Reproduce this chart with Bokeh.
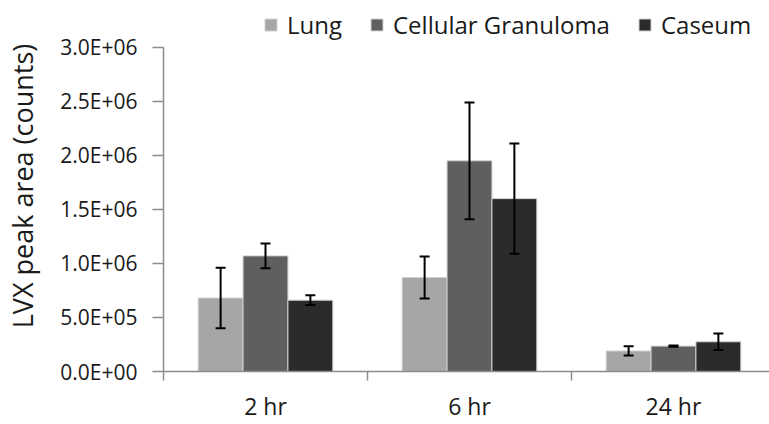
import numpy as np
from bokeh.plotting import figure
from bokeh.models import (ColumnDataSource, Range1d, FixedTicker, LinearAxis,
                          Legend, LegendItem, Whisker, TeeHead)
from bokeh.embed import file_html
from bokeh.resources import INLINE

categories = ["2 hr", "6 hr", "24 hr"]
series = ["Lung", "Cellular Granuloma", "Caseum"]
lung = [6.8e5, 8.7e5, 1.9e5]
lung_err = [2.8e5, 1.95e5, 4.3e4]
granuloma = [1.07e6, 1.95e6, 2.35e5]
granuloma_err = [1.15e5, 5.4e5, 5e3]
caseum = [6.6e5, 1.6e6, 2.75e5]
caseum_err = [4.5e4, 5.1e5, 7.7e4]
y_ticks = [0, 500000, 1000000, 1500000, 2000000, 2500000, 3000000]
y_tick_labels = ["0.0E+00", "5.0E+05", "1.0E+06", "1.5E+06", "2.0E+06", "2.5E+06", "3.0E+06"]

colors = ["#a6a6a6", "#5f5f5f", "#2b2b2b"]
offsets = [-0.22, 0.0, 0.22]
bar_w = 0.22
FONT = "Open Sans"
AX = "#8c8c8c"

values = [lung, granuloma, caseum]
errors = [lung_err, granuloma_err, caseum_err]

n = len(categories)
centers = np.arange(n) + 0.5
bounds = np.arange(n + 1)

y_max = y_ticks[-1]
# frame spans whole top area (legend lives inside it); axis is bounded to the tick range
p = figure(width=769, height=424, x_range=Range1d(0, 606 / 204),
           y_range=Range1d(0, y_max * 372 / 325),
           output_backend="svg", toolbar_location=None,
           x_axis_location=None, y_axis_location=None,
           min_border_left=163, min_border_right=0, min_border_top=0, min_border_bottom=52)
p.outline_line_color = None
for g in p.grid:
    g.visible = False

items = []
for s, vals, errs, col, off in zip(series, values, errors, colors, offsets):
    vals = np.array(vals, dtype=float)
    errs = np.array(errs, dtype=float)
    src = ColumnDataSource(dict(x=centers + off, top=vals, upper=vals + errs, lower=vals - errs))
    r = p.vbar(x="x", top="top", width=bar_w, source=src, fill_color=col, line_color="#d0d0d0", line_width=1)
    w = Whisker(base="x", upper="upper", lower="lower", source=src, line_color="black", line_width=2,
                level="overlay",
                upper_head=TeeHead(size=10, line_width=2, line_color="black"),
                lower_head=TeeHead(size=10, line_width=2, line_color="black"))
    p.add_layout(w)
    items.append(LegendItem(label=s, renderers=[r]))

yaxis = LinearAxis(ticker=FixedTicker(ticks=y_ticks, minor_ticks=[]), bounds=(0, y_max),
                   major_label_overrides={t: l for t, l in zip(y_ticks, y_tick_labels)},
                   axis_line_color=AX, axis_line_width=1.5,
                   major_tick_line_color=AX, major_tick_line_width=1.5,
                   major_tick_out=11, major_tick_in=0, minor_tick_line_color=None,
                   major_label_text_font=FONT, major_label_text_font_size="21px",
                   major_label_text_color="#1a1a1a", major_label_standoff=15,
                   axis_label="LVX peak area (counts)", axis_label_text_font=FONT,
                   axis_label_text_font_style="normal", axis_label_text_font_size="27px",
                   axis_label_text_color="#1a1a1a", axis_label_standoff=16)
p.add_layout(yaxis, "left")

xaxis = LinearAxis(ticker=FixedTicker(ticks=list(centers), minor_ticks=list(bounds)),
                   major_label_overrides={float(c): cat for c, cat in zip(centers, categories)},
                   axis_line_color=AX, axis_line_width=1.5,
                   major_tick_line_color=None, major_tick_out=0, major_tick_in=0,
                   minor_tick_line_color=AX, minor_tick_line_width=1.5, minor_tick_out=9, minor_tick_in=0,
                   major_label_text_font=FONT, major_label_text_font_size="23px",
                   major_label_text_color="#1a1a1a", major_label_standoff=9)
p.add_layout(xaxis, "below")

legend = Legend(items=items, location=(100, 330), orientation="horizontal",
                glyph_width=15, glyph_height=15, label_standoff=9, spacing=27,
                padding=0, margin=0, border_line_color=None, background_fill_alpha=0,
                label_text_font=FONT, label_text_font_size="24px", label_text_color="#1a1a1a")
p.add_layout(legend)

open("out.html", "w").write(file_html(p, INLINE))
